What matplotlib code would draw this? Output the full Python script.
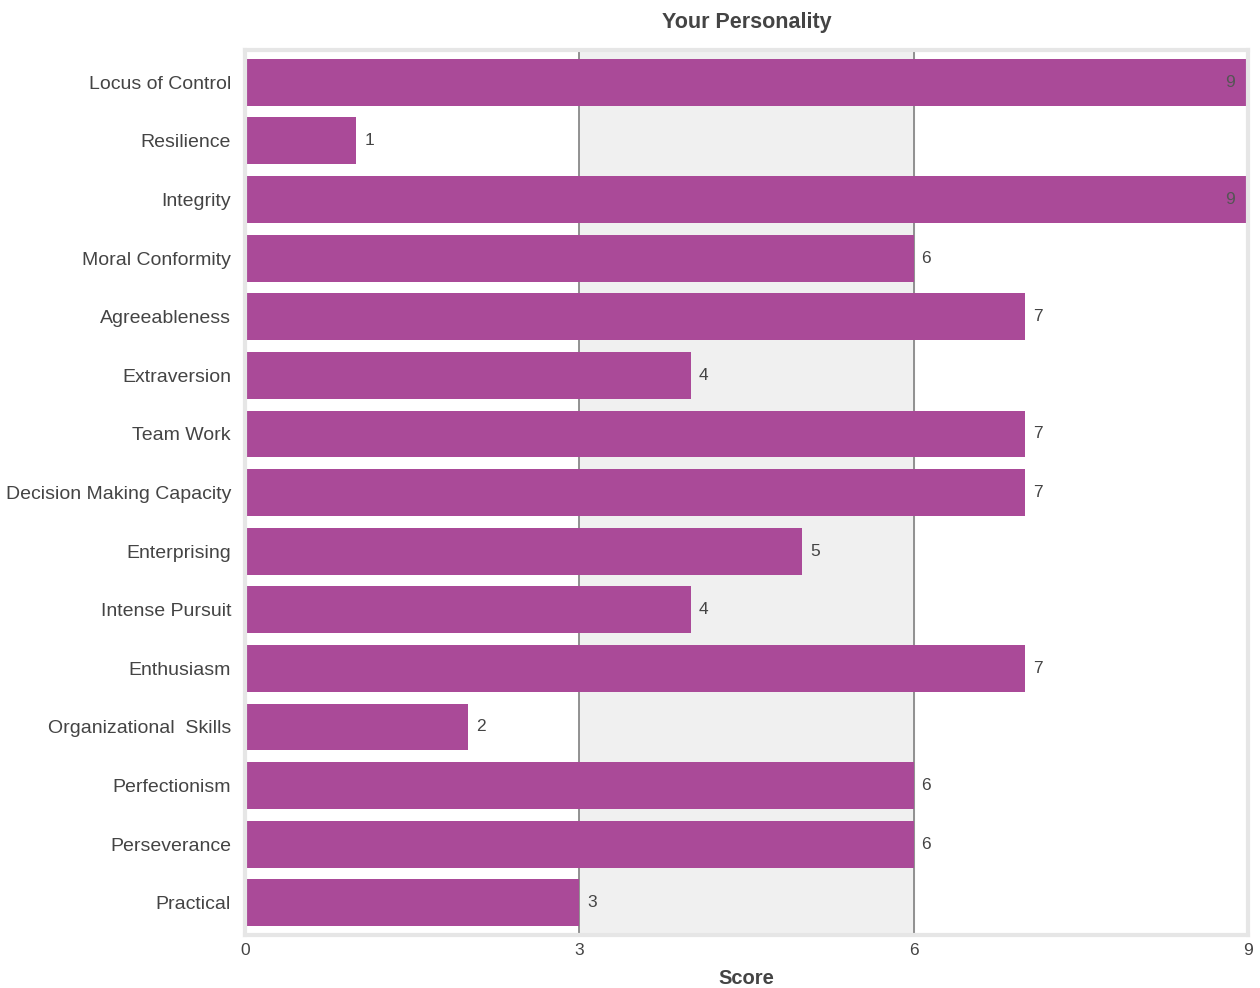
import numpy as np
import matplotlib.pyplot as plt

plt.rcParams['font.family'] = ['Liberation Sans', 'DejaVu Sans']

categories = ['Locus of Control', 'Resilience', 'Integrity', 'Moral Conformity',
              'Agreeableness', 'Extraversion', 'Team Work',
              'Decision Making Capacity', 'Enterprising', 'Intense Pursuit',
              'Enthusiasm', 'Organizational  Skills', 'Perfectionism',
              'Perseverance', 'Practical']
scores = [9, 1, 9, 6, 7, 4, 7, 7, 5, 4, 7, 2, 6, 6, 3]
x_ticks = [0, 3, 6, 9]

BAR_COLOR = '#aa4a98'
TEXT_COLOR = '#444444'

fig = plt.figure(figsize=(12.6, 9.88), dpi=100)
ax = fig.add_axes([0.1944, 0.0536, 0.7961, 0.8957])

y = np.arange(len(categories))
ax.axvspan(3, 6, color='#f0f0f0', zorder=0)
for xv in [3, 6]:
    ax.axvline(xv, color='#808080', lw=1.2, zorder=1)

ax.barh(y, scores, height=0.8, color=BAR_COLOR, zorder=2)

for yi, s in zip(y, scores):
    if s >= 9:
        ax.text(s - 0.12, yi, str(s), ha='right', va='center',
                fontsize=12.5, color='#555555', zorder=3)
    else:
        ax.text(s + 0.07, yi, str(s), ha='left', va='center',
                fontsize=12.5, color=TEXT_COLOR, zorder=3)

ax.set_xlim(0, 9)
ax.set_ylim(len(categories) - 0.45, -0.55)
ax.set_xticks(x_ticks)
ax.set_xticklabels([str(t) for t in x_ticks], fontsize=12.5, color=TEXT_COLOR)
ax.set_yticks(y)
ax.set_yticklabels(categories, fontsize=14, color=TEXT_COLOR)
ax.tick_params(axis='both', length=0)
ax.tick_params(axis='y', pad=10)
ax.tick_params(axis='x', pad=6)

for sp in ax.spines.values():
    sp.set_color('#e6e6e6')
    sp.set_linewidth(3)

ax.set_xlabel('Score', fontsize=14.5, fontweight='bold', color=TEXT_COLOR, labelpad=8)
ax.set_title('Your Personality', fontsize=15.5, fontweight='bold', color=TEXT_COLOR, pad=16)

plt.savefig('out.png', dpi=100)
